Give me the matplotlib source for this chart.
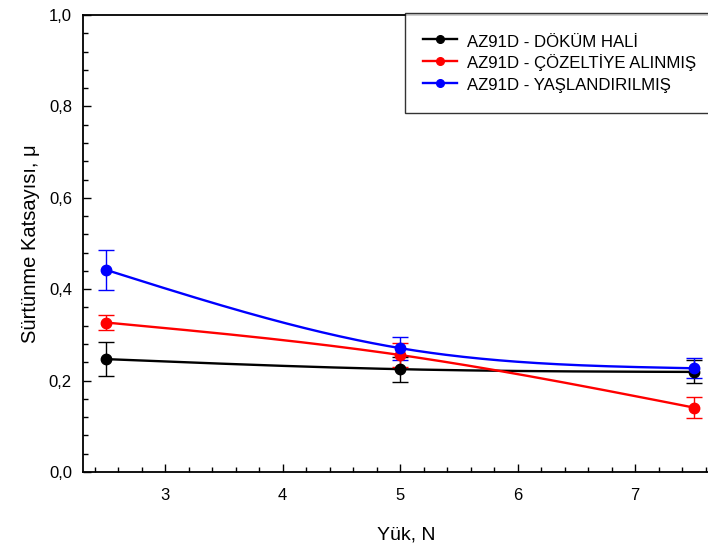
import numpy as np
import matplotlib
matplotlib.use("Agg")
import matplotlib.pyplot as plt
from matplotlib.ticker import MultipleLocator, FuncFormatter

plt.rcParams['font.family'] = ['Liberation Sans', 'DejaVu Sans']

# Load (N) and friction coefficient with standard deviations
load = [2.5, 5.0, 7.5]

cast_mu = [0.247, 0.225, 0.219]
cast_err = [0.037, 0.027, 0.025]

solution_mu = [0.327, 0.256, 0.141]
solution_err = [0.017, 0.026, 0.023]

aged_mu = [0.442, 0.271, 0.227]
aged_err = [0.044, 0.025, 0.022]

labels = ["AZ91D - DÖKÜM HALİ", "AZ91D - ÇÖZELTİYE ALINMIŞ", "AZ91D - YAŞLANDIRILMIŞ"]
colors = ["black", "red", "blue"]


def natural_spline(x, y, xs):
    """Natural cubic spline through the given points."""
    x = np.asarray(x, float)
    y = np.asarray(y, float)
    n = len(x)
    h = np.diff(x)
    A = np.zeros((n, n))
    r = np.zeros(n)
    A[0, 0] = A[-1, -1] = 1.0
    for i in range(1, n - 1):
        A[i, i - 1] = h[i - 1]
        A[i, i] = 2 * (h[i - 1] + h[i])
        A[i, i + 1] = h[i]
        r[i] = 6 * ((y[i + 1] - y[i]) / h[i] - (y[i] - y[i - 1]) / h[i - 1])
    M = np.linalg.solve(A, r)
    out = np.empty_like(xs)
    for k, xv in enumerate(xs):
        i = min(max(np.searchsorted(x, xv) - 1, 0), n - 2)
        t1 = x[i + 1] - xv
        t0 = xv - x[i]
        hi = h[i]
        out[k] = (M[i] * t1 ** 3 / (6 * hi) + M[i + 1] * t0 ** 3 / (6 * hi)
                  + (y[i] / hi - M[i] * hi / 6) * t1
                  + (y[i + 1] / hi - M[i + 1] * hi / 6) * t0)
    return out


fig = plt.figure(figsize=(7.08, 5.48), dpi=100)
ax = fig.add_axes([83 / 708, 76 / 548, 646 / 708, 457 / 548])

xs = np.linspace(load[0], load[-1], 200)
series = [(cast_mu, cast_err), (solution_mu, solution_err), (aged_mu, aged_err)]
for (mu, err), c, lab in zip(series, colors, labels):
    ax.plot(xs, natural_spline(load, mu, xs), color=c, lw=1.7, zorder=2)
    ax.errorbar(load, mu, yerr=err, fmt='none', ecolor=c, elinewidth=1.0,
                capsize=6, capthick=1.0, zorder=3)
    ax.plot(load, mu, 'o', color=c, ms=7.5, zorder=4)
    ax.plot([], [], '-o', color=c, lw=1.7, ms=5.5, label=lab)

ax.set_xlim(2.3, 7.8)
ax.set_ylim(0, 1.0)

ax.xaxis.set_major_locator(MultipleLocator(1))
ax.xaxis.set_minor_locator(MultipleLocator(0.2))
ax.yaxis.set_major_locator(MultipleLocator(0.2))
ax.yaxis.set_minor_locator(MultipleLocator(0.04))
ax.yaxis.set_major_formatter(FuncFormatter(lambda v, p: f"{v:.1f}".replace('.', ',')))
ax.xaxis.set_major_formatter(FuncFormatter(lambda v, p: f"{v:g}"))

ax.tick_params(which='both', direction='in', top=False, right=False,
               labelsize=12, width=1.0)
ax.tick_params(which='major', length=6)
ax.tick_params(which='minor', length=3.5)
ax.tick_params(axis='y', which='major', pad=8)
ax.tick_params(axis='x', which='major', pad=11.5)
for s in ax.spines.values():
    s.set_linewidth(1.3)

ax.set_xlabel("Yük, N", fontsize=14, labelpad=17)
ax.set_ylabel("Sürtünme Katsayısı, μ", fontsize=14.5, labelpad=6)

leg = fig.legend(loc='upper left', bbox_to_anchor=(405 / 708, 1 - 13 / 548),
                 fontsize=12.1, frameon=True, fancybox=False, borderaxespad=0,
                 handlelength=2.0, handleheight=1.35, handletextpad=0.6,
                 borderpad=1.1, labelspacing=0.18)
leg.get_frame().set_edgecolor('black')
leg.get_frame().set_linewidth(1.0)

fig.savefig("out.png", dpi=100)
